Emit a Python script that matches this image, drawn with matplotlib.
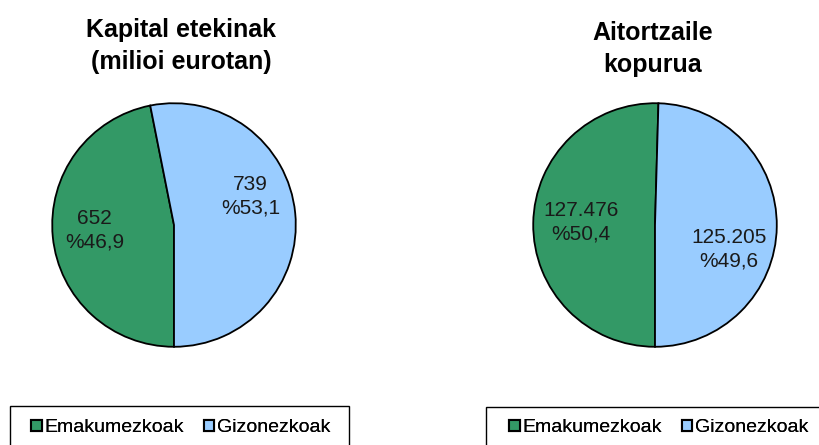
import matplotlib.pyplot as plt
from matplotlib.patches import Patch, Rectangle

plt.rcParams['font.family'] = ['Liberation Sans', 'DejaVu Sans']

labels = ['Emakumezkoak', 'Gizonezkoak']
colors = ['#339966', '#99CCFF']

titles = ['Kapital etekinak\n(milioi eurotan)', 'Aitortzaile\nkopurua']
values_left = [652, 739]
values_right = [127476, 125205]
text_left = ['652\n%46,9', '739\n%53,1']
text_right = ['127.476\n%50,4', '125.205\n%49,6']

W, H = 820, 445
fig = plt.figure(figsize=(W / 100, H / 100), dpi=100)


def px_axes(cx, cy, r):
    return fig.add_axes([(cx - r) / W, 1 - (cy + r) / H, 2 * r / W, 2 * r / H])


def draw_pie(cx, cy, values, texts, label_pos, title, title_x, title_y):
    ax = px_axes(cx, cy, 123)
    ax.pie(values, colors=colors, startangle=-90, counterclock=False,
           wedgeprops=dict(edgecolor='black', linewidth=1.3))
    ax.set_xlim(-1.01, 1.01)
    ax.set_ylim(-1.01, 1.01)
    ax.set_aspect('equal')
    ax.axis('off')
    for t, (x, y) in zip(texts, label_pos):
        ax.text(x, y, t, ha='center', va='center', fontsize=15, color='#1a1a1a',
                linespacing=1.3)
    fig.text(title_x / W, 1 - title_y / H, title, ha='center', va='center',
             fontsize=18, fontweight='bold', linespacing=1.45)


draw_pie(174, 225, values_left, text_left,
         [(-0.65, -0.04), (0.63, 0.24)], titles[0], 181, 46)
draw_pie(655, 225, values_right, text_right,
         [(-0.61, 0.02), (0.61, -0.20)], titles[1], 653, 49)

handles = [Patch(facecolor=c, edgecolor='black', linewidth=1.5) for c in colors]
for x0, x1, xc, top in [(10, 349, 181, 406), (486, 840, 659, 407)]:
    fig.add_artist(Rectangle((x0 / W, 1 - 470 / H), (x1 - x0) / W, (470 - top) / H,
                             transform=fig.transFigure, facecolor='none',
                             edgecolor='black', linewidth=1.0))
    leg = fig.legend(handles, labels, ncol=2, loc='center',
                     bbox_to_anchor=(xc / W, 1 - 428 / H),
                     frameon=False, fontsize=14,
                     handlelength=0.55, handleheight=0.55, handletextpad=0.15,
                     borderaxespad=0, columnspacing=1.0, borderpad=0)
    fig.add_artist(leg)

fig.savefig('out.png', dpi=100)
